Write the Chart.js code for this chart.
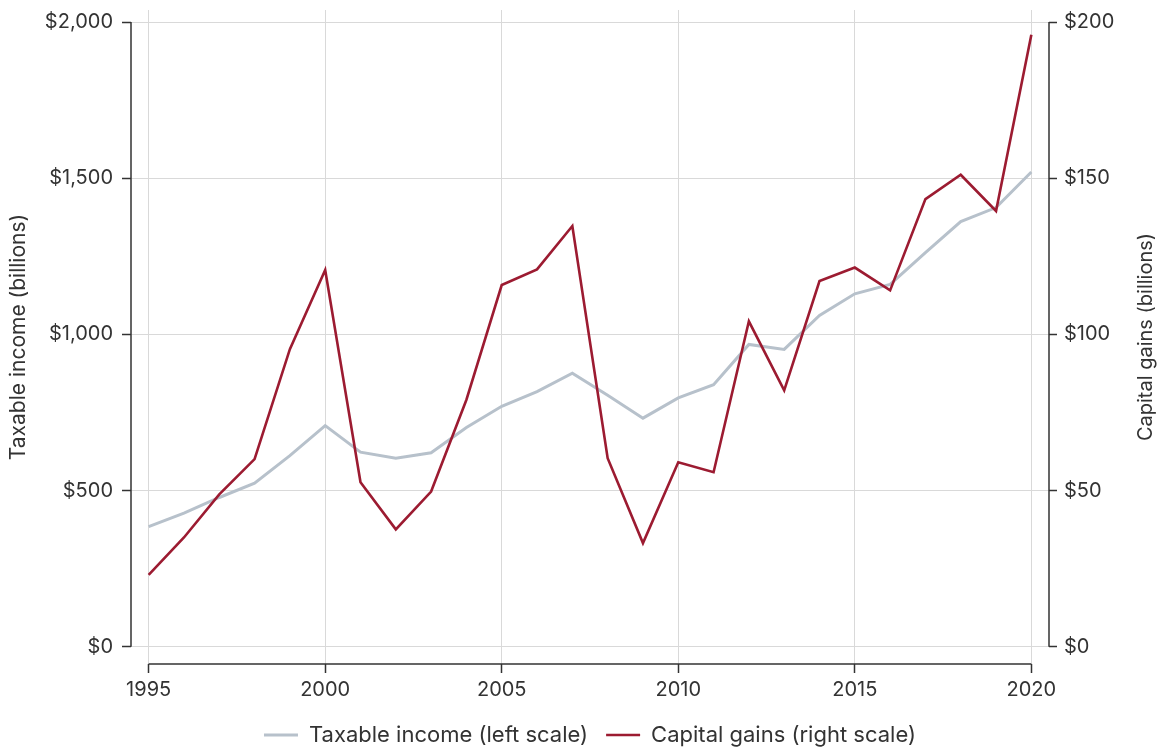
<!DOCTYPE html>
<html>
<head>
<meta charset="utf-8">
<title>Taxable income and capital gains</title>
<script src="https://cdn.jsdelivr.net/npm/chart.js@4.4.1/dist/chart.umd.min.js"></script>
<style>
  html, body { margin: 0; padding: 0; background: #ffffff; }
  #wrap { width: 1159px; height: 749px; }
</style>
</head>
<body>
<div id="wrap"><canvas id="chart" width="1159" height="749"></canvas></div>
<script>
// data (billions of dollars)
const years = [1995, 1996, 1997, 1998, 1999, 2000, 2001, 2002, 2003, 2004, 2005, 2006, 2007,
               2008, 2009, 2010, 2011, 2012, 2013, 2014, 2015, 2016, 2017, 2018, 2019, 2020];
const taxableIncome = [385, 428, 478, 524, 612, 708, 623, 604, 621, 702, 770, 817, 876,
                       805, 732, 797, 839, 968, 952, 1061, 1130, 1160, 1262, 1361, 1406, 1520];
const capitalGains = [23.0, 35.0, 48.8, 60.1, 95.3, 120.6, 52.7, 37.6, 49.7, 79.1, 115.8, 120.8, 134.7,
                      60.4, 33.2, 59.1, 55.9, 104.2, 82.1, 117.1, 121.4, 114.1, 143.3, 151.1, 139.5, 195.9];

const yearTicks = [1995, 2000, 2005, 2010, 2015, 2020];
const leftTicks = [0, 500, 1000, 1500, 2000];
const rightTicks = [0, 50, 100, 150, 200];

const FONT = "Inter";
const TEXT = "#333333";
const AXIS = "#333333";
const GRID = "#d9d9d9";

Chart.defaults.font.family = FONT;
Chart.defaults.font.size = 20;
Chart.defaults.color = TEXT;

function money(v) {
    return "$" + v.toLocaleString("en-US");
}

// axis lines only span the tick range, and the right title reads upwards
const axisLines = {
    id: "axisLines",
    afterDraw(chart) {
        const { ctx, chartArea, scales } = chart;
        ctx.save();
        ctx.strokeStyle = AXIS;
        ctx.lineWidth = 1.5;
        ctx.beginPath();
        ctx.moveTo(chartArea.left, scales.y.getPixelForValue(leftTicks[0]));
        ctx.lineTo(chartArea.left, scales.y.getPixelForValue(leftTicks[leftTicks.length - 1]));
        ctx.moveTo(chartArea.right, scales.y2.getPixelForValue(rightTicks[0]));
        ctx.lineTo(chartArea.right, scales.y2.getPixelForValue(rightTicks[rightTicks.length - 1]));
        ctx.moveTo(scales.x.getPixelForValue(yearTicks[0]), chartArea.bottom);
        ctx.lineTo(scales.x.getPixelForValue(yearTicks[yearTicks.length - 1]), chartArea.bottom);
        ctx.stroke();

        ctx.translate(1146, (chartArea.top + chartArea.bottom) / 2);
        ctx.rotate(-Math.PI / 2);
        ctx.fillStyle = TEXT;
        ctx.font = "20px " + FONT;
        ctx.textAlign = "center";
        ctx.textBaseline = "middle";
        ctx.fillText("Capital gains (billions)", 0, 0);
        ctx.restore();
    }
};

const ctx = document.getElementById("chart").getContext("2d");
new Chart(ctx, {
    type: "line",
    data: {
        datasets: [
            {
                label: "Capital gains (right scale)",
                data: years.map((y, i) => ({ x: y, y: capitalGains[i] })),
                borderColor: "#9c1b31",
                backgroundColor: "#9c1b31",
                borderWidth: 2.6,
                pointRadius: 0,
                tension: 0,
                yAxisID: "y2",
            },
            {
                label: "Taxable income (left scale)",
                data: years.map((y, i) => ({ x: y, y: taxableIncome[i] })),
                borderColor: "#b7c1cb",
                backgroundColor: "#b7c1cb",
                borderWidth: 3,
                pointRadius: 0,
                tension: 0,
                yAxisID: "y",
            },
        ],
    },
    options: {
        responsive: false,
        animation: false,
        layout: { padding: { top: 3, bottom: -7, left: 0, right: 0 } },
        plugins: {
            tooltip: { enabled: false },
            legend: {
                position: "bottom",
                fullSize: false,
                labels: {
                    usePointStyle: true,
                    pointStyle: "line",
                    pointStyleWidth: 34,
                    padding: 18,
                    color: TEXT,
                    font: { size: 22 },
                    sort: (a, b) => b.datasetIndex - a.datasetIndex,
                },
            },
        },
        scales: {
            x: {
                type: "linear",
                min: 1994.5,
                max: 2020.5,
                afterBuildTicks: (s) => { s.ticks = yearTicks.map((v) => ({ value: v })); },
                afterFit: (s) => { s.height = 42; },
                border: { display: false },
                grid: { color: GRID, lineWidth: 1, tickColor: AXIS, tickWidth: 1.5, tickLength: 9 },
                ticks: { padding: 5, color: TEXT, callback: (v) => String(v) },
            },
            y: {
                position: "left",
                min: -55,
                max: 2038.5,
                afterBuildTicks: (s) => { s.ticks = leftTicks.map((v) => ({ value: v })); },
                afterFit: (s) => { s.width = 131; },
                border: { display: false },
                grid: { color: GRID, lineWidth: 1, tickColor: AXIS, tickWidth: 1.5, tickLength: 9 },
                ticks: { padding: 9, color: TEXT, font: { lineHeight: 0.1 }, callback: (v) => money(v) },
                title: { display: true, text: "Taxable income (billions)", color: TEXT, font: { size: 21 }, padding: { top: 6, bottom: 0 } },
            },
            y2: {
                position: "right",
                min: -5.5,
                max: 203.85,
                afterBuildTicks: (s) => { s.ticks = rightTicks.map((v) => ({ value: v })); },
                afterFit: (s) => { s.width = 110; },
                border: { display: false },
                grid: { drawOnChartArea: false, tickColor: AXIS, tickWidth: 1.5, tickLength: 8 },
                ticks: { padding: 7, color: TEXT, font: { lineHeight: 0.1 }, callback: (v) => money(v) },
            },
        },
    },
    plugins: [axisLines],
});
</script>
</body>
</html>
